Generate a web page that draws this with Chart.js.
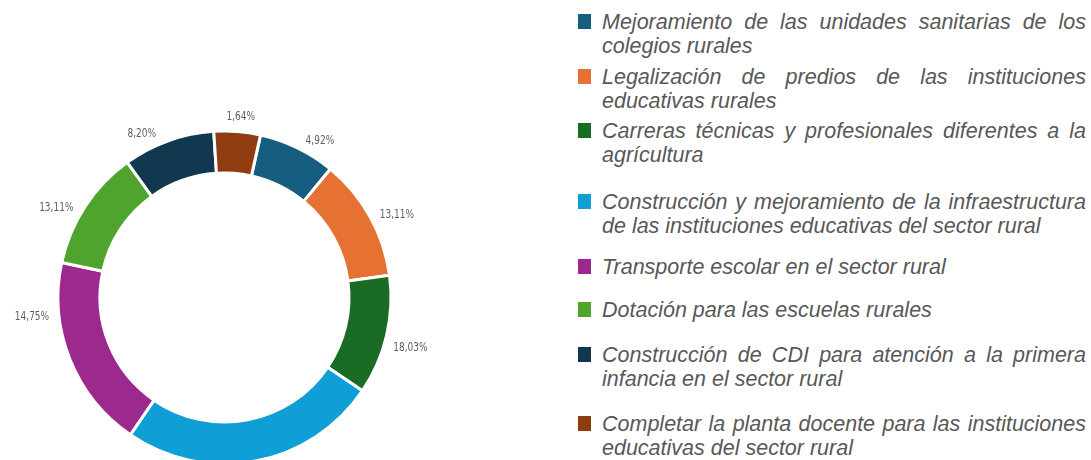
<!DOCTYPE html>
<html>
<head>
<meta charset="utf-8">
<script src="https://cdn.jsdelivr.net/npm/chart.js@4"></script>
<style>
  body { margin: 0; width: 1091px; height: 460px; overflow: hidden; background: #fff; position: relative; }
  #chartBox { position: absolute; left: 0; top: 0; width: 449px; height: 595px; }
  #legend { position: absolute; left: 578px; top: 0; width: 508px; }
  .item { position: absolute; left: 0; width: 508px; }
  .sw { position: absolute; left: 0; top: 4px; width: 13px; height: 15px; }
  .txt { margin-left: 24px; width: 484px; font: italic 21.5px/24px "Liberation Sans", Arial, sans-serif; color: #585858; text-align: justify; }
</style>
</head>
<body>
<div id="chartBox"><canvas id="ring" width="449" height="595"></canvas></div>
<div id="legend"></div>
<script>
// categories, in legend order
const categories = [
  'Mejoramiento de las unidades sanitarias de los colegios rurales',
  'Legalización de predios de las instituciones educativas rurales',
  'Carreras técnicas y profesionales diferentes a la agrícultura',
  'Construcción y mejoramiento de la infraestructura de las instituciones educativas del sector rural',
  'Transporte escolar en el sector rural',
  'Dotación para las escuelas rurales',
  'Construcción de CDI para atención a la primera infancia en el sector rural',
  'Completar la planta docente para las instituciones educativas del sector rural'
];
// size of each slice as drawn in the picture (share of the ring)
const sliceShare = [7.5, 11.9, 11.6, 25.1, 18.8, 11.7, 8.9, 4.5];
// percentage labels printed next to the slices
const pctText = ['4,92%', '13,11%', '18,03%', '26,23%', '14,75%', '13,11%', '8,20%', '1,64%'];

const colors = ['#155e7f', '#e57232', '#1a6b23', '#109ed6', '#9c298e', '#4fa42d', '#11384f', '#8f3c10'];
// small angle corrections (deg) for where the labels sit
const labelNudgeDeg = [4, 2, 3, 0, 15.5, -3.5, -6, 0.5];
const legendTop = [10, 65, 119, 190, 255, 298, 343, 412];

// legend (html so the text can be justified)
const legend = document.getElementById('legend');
categories.forEach((c, i) => {
  const item = document.createElement('div');
  item.className = 'item';
  item.style.top = legendTop[i] + 'px';
  item.innerHTML = '<div class="sw" style="background:' + colors[i] + '"></div><div class="txt">' + c + '</div>';
  legend.appendChild(item);
});

const pctLabels = {
  id: 'pctLabels',
  afterDatasetsDraw(chart) {
    const ctx = chart.ctx;
    const arcs = chart.getDatasetMeta(0).data;
    const squeeze = 0.8;
    ctx.save();
    ctx.font = '12.5px "Liberation Sans Narrow", "DejaVu Sans Condensed", sans-serif';
    ctx.fillStyle = '#5f5f5f';
    ctx.textAlign = 'center';
    ctx.textBaseline = 'middle';
    arcs.forEach((arc, i) => {
      const a = (arc.startAngle + arc.endAngle) / 2 + labelNudgeDeg[i] * Math.PI / 180;
      const w = ctx.measureText(pctText[i]).width * squeeze;
      const r = arc.outerRadius + 10;
      const x = arc.x + Math.cos(a) * (r + w / 2);
      const y = arc.y + Math.sin(a) * (r + 5);
      ctx.save();
      ctx.translate(x, y);
      ctx.scale(squeeze, 1);
      ctx.fillText(pctText[i], 0, 0);
      ctx.restore();
    });
    ctx.restore();
  }
};

const ctx = document.getElementById('ring').getContext('2d');
const ringChart = new Chart(ctx, {
  type: 'doughnut',
  data: {
    labels: categories,
    datasets: [{
      data: sliceShare,
      backgroundColor: colors,
      borderColor: '#ffffff',
      borderWidth: 3
    }]
  },
  options: {
    responsive: false,
    animation: false,
    rotation: 12.5,
    radius: 166.5,
    cutout: '74.8%',
    layout: { padding: 0 },
    plugins: {
      legend: { display: false },
      tooltip: { enabled: false }
    }
  },
  plugins: [pctLabels]
});
</script>
</body>
</html>
